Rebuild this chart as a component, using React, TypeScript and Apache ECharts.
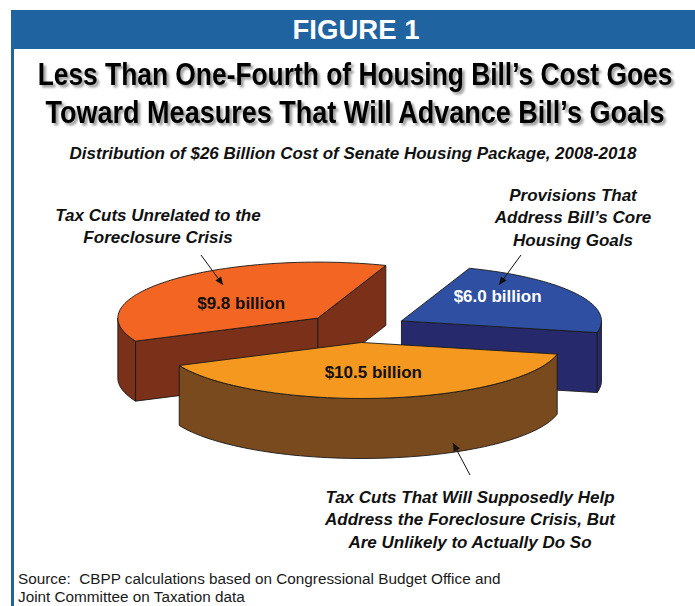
import React, { useEffect, useRef } from "react";
import * as echarts from "echarts";

// ---- Data ----
const categories = [
  "Tax Cuts That Will Supposedly Help Address the Foreclosure Crisis, But Are Unlikely to Actually Do So",
  "Tax Cuts Unrelated to the Foreclosure Crisis",
  "Provisions That Address Bill's Core Housing Goals",
];
const values = [10.5, 9.8, 6.0]; // $ billions, clockwise from the front slice
const topColors = ["#F5981F", "#F26522", "#2F50A2"];
const sideColors = ["#7A4A1F", "#7A3019", "#262A6D"];
const labelColors = ["#111111", "#111111", "#ffffff"];

const annotationLines = [
  ["Tax Cuts That Will Supposedly Help", "Address the Foreclosure Crisis, But", "Are Unlikely to Actually Do So"],
  ["Tax Cuts Unrelated to the", "Foreclosure Crisis"],
  ["Provisions That", "Address Bill\u2019s Core", "Housing Goals"],
];

const titleLines = [
  "Less Than One-Fourth of Housing Bill\u2019s Cost Goes",
  "Toward Measures That Will Advance Bill\u2019s Goals",
];
const subtitle = "Distribution of $26 Billion Cost of Senate Housing Package, 2008-2018";
const sourceLines = [
  "Source:  CBPP calculations based on Congressional Budget Office and",
  "Joint Committee on Taxation data",
];

// ---- Layout ----
const W = 695;
const H = 606;
const CX = 356;
const CY = 328;
const RX = 200;
const RY = 56;
const DEPTH = 60;
const EXPLODE = 0.26;
const START_DEG = 12;
const LABEL_R = 0.55;
const labelNudge = [[0, -1], [4, 6], [0, -9]];
const annoPos = [
  { x: 470, y: 497, arrow: [[470, 475], [453, 443]] },
  { x: 158, y: 215, arrow: [[201, 255], [223, 285]] },
  { x: 573, y: 195, arrow: [[521, 255], [499, 285]] },
];
const TITLE_FONT = "bold 31px 'Liberation Sans', Arial, sans-serif";
const FIG_FONT = "bold 28px 'Liberation Sans', Arial, sans-serif";
const titleWidths = [635, 620];
const FIG_WIDTH = 127;

const rad = (d: number) => (d * Math.PI) / 180;

function measure(text: string, font: string) {
  const c = document.createElement("canvas").getContext("2d");
  if (!c) return text.length * 15;
  c.font = font;
  return c.measureText(text).width;
}

function arrowHead(p0: number[], p1: number[], len = 8, half = 3.5) {
  const dx = p1[0] - p0[0];
  const dy = p1[1] - p0[1];
  const L = Math.hypot(dx, dy);
  const ux = dx / L, uy = dy / L;
  const bx = p1[0] - ux * len, by = p1[1] - uy * len;
  return [
    [p1[0], p1[1]],
    [bx - uy * half, by + ux * half],
    [bx + uy * half, by - ux * half],
  ];
}

export default function App() {
  const ref = useRef<HTMLDivElement>(null);
  useEffect(() => {
    if (!ref.current) return;
    const chart = echarts.init(ref.current, null, { renderer: "svg" });
    const total = values.reduce((a, b) => a + b, 0);

    const renderItem = (params: any, api: any) => {
      const i = params.dataIndex;
      const v = api.value(0);
      let before = 0;
      for (let k = 0; k < i; k++) before += values[k];
      const a0 = START_DEG + (before / total) * 360;
      const a1 = a0 + (v / total) * 360;
      const mid = (a0 + a1) / 2;
      const cx = CX + EXPLODE * RX * Math.cos(rad(mid));
      const cy = CY + EXPLODE * RY * Math.sin(rad(mid));
      const zBase = Math.round(Math.sin(rad(mid)) * 100) * 10 + 2000;
      const P = (d: number, dz = 0) => [cx + RX * Math.cos(rad(d)), cy + RY * Math.sin(rad(d)) + dz];
      const arcPts = (s: number, e: number, dz = 0) => {
        const n = Math.max(2, Math.ceil((e - s) / 2));
        const pts: number[][] = [];
        for (let k = 0; k <= n; k++) pts.push(P(s + ((e - s) * k) / n, dz));
        return pts;
      };
      const stroke = { stroke: "#1a1a1a", lineWidth: 0.9, lineJoin: "round" };
      const children: any[] = [];
      for (let k = 0; k < 2; k++) {
        const lo = Math.max(a0, 360 * k);
        const hi = Math.min(a1, 360 * k + 180);
        if (hi > lo) {
          const top = arcPts(lo, hi);
          const bot = arcPts(lo, hi, DEPTH).reverse();
          children.push({ type: "polygon", z2: zBase, shape: { points: top.concat(bot) }, style: { fill: sideColors[i], ...stroke } });
        }
      }
      if (Math.cos(rad(a0)) < 0) {
        const p = P(a0);
        children.push({
          type: "polygon", z2: zBase,
          shape: { points: [[cx, cy], p, [p[0], p[1] + DEPTH], [cx, cy + DEPTH]] },
          style: { fill: sideColors[i], ...stroke },
        });
      }
      if (Math.cos(rad(a1)) > 0) {
        const p = P(a1);
        children.push({
          type: "polygon", z2: zBase,
          shape: { points: [[cx, cy], p, [p[0], p[1] + DEPTH], [cx, cy + DEPTH]] },
          style: { fill: sideColors[i], ...stroke },
        });
      }
      children.push({
        type: "polygon", z2: zBase + 1,
        shape: { points: [[cx, cy]].concat(arcPts(a0, a1)) },
        style: { fill: topColors[i], ...stroke },
      });
      children.push({
        type: "text", z2: zBase + 2,
        style: {
          text: "$" + v.toFixed(1) + " billion",
          x: cx + LABEL_R * RX * Math.cos(rad(mid)) + labelNudge[i][0],
          y: cy + LABEL_R * RY * Math.sin(rad(mid)) + labelNudge[i][1],
          fill: labelColors[i],
          font: "bold 17px 'Liberation Sans', Arial, sans-serif",
          align: "center",
          verticalAlign: "middle",
          textAlign: "center",
          textVerticalAlign: "middle",
        },
      });
      return { type: "group", children };
    };

    const graphics: any[] = [];
    graphics.push({ type: "rect", shape: { x: 11, y: 10, width: 3, height: H - 10 }, style: { fill: "#1F64A0" }, z: 1 });
    graphics.push({ type: "rect", shape: { x: 11, y: 10, width: W - 11, height: 39 }, style: { fill: "#1F64A0" }, z: 1 });
    graphics.push({
      type: "text",
      z: 2,
      x: 356, y: 29,
      scaleX: FIG_WIDTH / measure("FIGURE 1", FIG_FONT),
      style: {
        text: "FIGURE 1",
        x: 0, y: 0,
        fill: "#ffffff",
        font: FIG_FONT,
        textAlign: "center", textVerticalAlign: "middle",
      },
    });
    titleLines.forEach((t, k) => {
      graphics.push({
        type: "text",
        z: 2,
        x: 355, y: 74 + k * 38,
        scaleX: titleWidths[k] / measure(t, TITLE_FONT),
        style: {
          text: t,
          x: 0, y: 0,
          fill: "#000000",
          font: TITLE_FONT,
          textAlign: "center", textVerticalAlign: "middle",
          textShadowColor: "rgba(0,0,0,0.4)", textShadowBlur: 2, textShadowOffsetX: 2.5, textShadowOffsetY: 2.5,
        },
      });
    });
    graphics.push({
      type: "text",
      z: 2,
      style: {
        text: subtitle, x: 353, y: 153, fill: "#111",
        font: "italic bold 17px 'Liberation Sans', Arial, sans-serif",
        textAlign: "center", textVerticalAlign: "middle",
      },
    });
    annotationLines.forEach((lines, k) => {
      const a = annoPos[k];
      lines.forEach((t, j) => {
        graphics.push({
          type: "text", z: 2,
          style: {
            text: t, x: a.x, y: a.y + j * 22.5, fill: "#111",
            font: "italic bold 17px 'Liberation Sans', Arial, sans-serif",
            textAlign: "center", textVerticalAlign: "middle",
          },
        });
      });
      graphics.push({
        type: "line", z: 5,
        shape: { x1: a.arrow[0][0], y1: a.arrow[0][1], x2: a.arrow[1][0], y2: a.arrow[1][1] },
        style: { stroke: "#111", lineWidth: 1 },
      });
      graphics.push({
        type: "polygon", z: 5,
        shape: { points: arrowHead(a.arrow[0], a.arrow[1]) },
        style: { fill: "#111" },
      });
    });
    sourceLines.forEach((t, k) => {
      graphics.push({
        type: "text", z: 2,
        style: {
          text: t, x: 18, y: 578 + k * 18, fill: "#1a1a1a",
          font: "15.3px 'Liberation Sans', Arial, sans-serif",
          textAlign: "left", textVerticalAlign: "middle",
        },
      });
    });

    chart.setOption({
      animation: false,
      backgroundColor: "#ffffff",
      graphic: { elements: graphics },
      series: [
        {
          type: "custom",
          coordinateSystem: "none",
          renderItem,
          data: values.map((v, i) => ({ name: categories[i], value: [v, i] })),
          z: 3,
        },
      ],
    });
    return () => chart.dispose();
  }, []);
  return <div ref={ref} style={{ position: "fixed", left: 0, top: 0, width: W, height: H }} />;
}
